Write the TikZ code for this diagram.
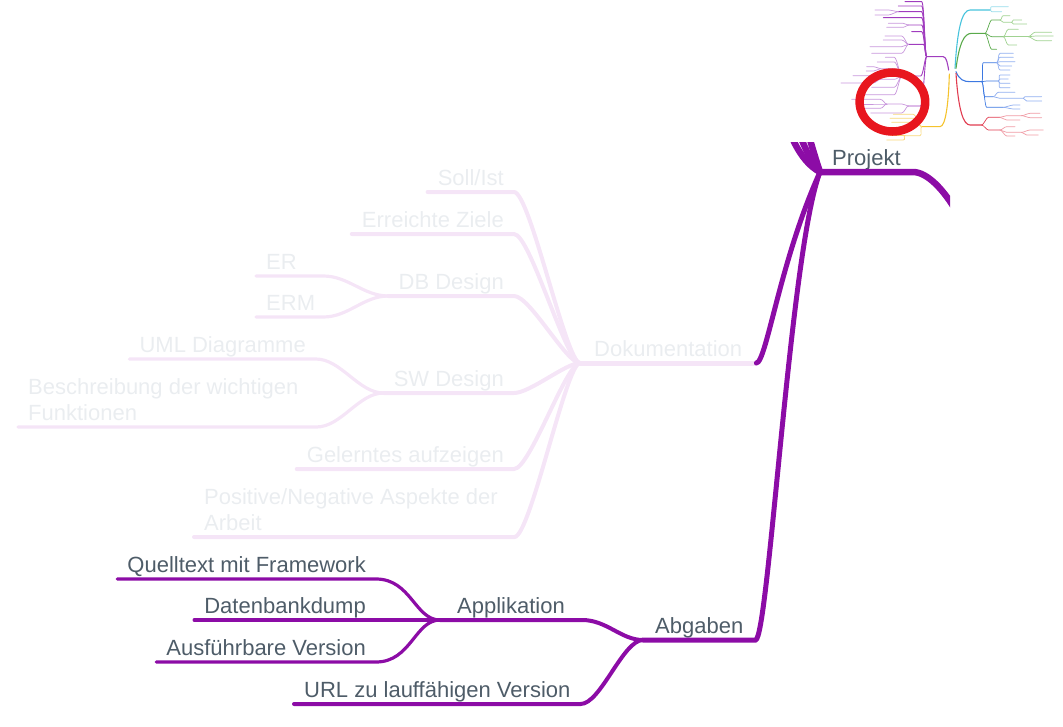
\documentclass[tikz,border=0pt]{standalone}
\usepackage{fontspec}
\setmainfont{Liberation Sans}
\definecolor{plum}{RGB}{140,12,166}
\definecolor{blush}{RGB}{245,229,247}
\definecolor{ink}{RGB}{78,92,104}
\definecolor{mist}{RGB}{234,237,240}
\definecolor{grape}{RGB}{160,60,190}
\definecolor{lilac}{RGB}{200,150,220}
\definecolor{aqua}{RGB}{70,195,220}
\definecolor{aqualeaf}{RGB}{150,220,235}
\definecolor{moss}{RGB}{90,170,75}
\definecolor{mossleaf}{RGB}{160,210,145}
\definecolor{azure}{RGB}{60,120,225}
\definecolor{azureleaf}{RGB}{145,175,240}
\definecolor{rose}{RGB}{225,60,80}
\definecolor{roseleaf}{RGB}{240,155,165}
\definecolor{amber}{RGB}{245,195,45}
\definecolor{amberleaf}{RGB}{248,215,120}
\definecolor{marker}{RGB}{232,22,30}
\newcommand{\mapfont}{\fontsize{22}{26}\selectfont}
\tikzset{%
  topic/.style = {font=\mapfont, text=ink, inner xsep=10pt, inner ysep=6pt,
        text depth=0pt},
  pale/.style = {topic, text=mist},
  trunk/.style = {draw=plum, line width=6.5pt, line cap=round},
  bough/.style = {draw=plum, line width=5pt, line cap=round},
  twig/.style = {draw=plum, line width=4pt, line cap=round},
  leafline/.style = {draw=plum, line width=3.2pt, line cap=round},
  palebough/.style = {bough, draw=blush},
  paletwig/.style = {twig, draw=blush},
  paleleaf/.style = {leafline, draw=blush},
  mapbough/.style = {line width=1.1pt, line cap=round},
  mapleaf/.style = {line width=0.7pt, line cap=round}
}
\begin{document}
\begin{tikzpicture}[x=1pt, y=-1pt]
\useasboundingbox (0,0) rectangle (1063,726);

\begin{scope}
\clip (0,142) rectangle (950,726);
\node[topic, inner xsep=12pt, anchor=south west] (projekt) at (820,172) {Projekt};
\coordinate (root) at (985,300);
\coordinate (hidden1) at (780,77);
\coordinate (hidden2) at (770,-46);
\coordinate (hidden3) at (760,-200);
\node[pale, inner xsep=14pt, anchor=south west] (doku) at (580,363) {Dokumentation};
\node[topic, inner xsep=12pt, anchor=south west] (abgaben) at (643,640) {Abgaben};

% Dokumentation (faded)
\node[pale, anchor=south east] (soll) at (514,192) {Soll/Ist};
\node[pale, anchor=south east] (ziele) at (514,234) {Erreichte Ziele};
\node[pale, anchor=south east] (dbdesign) at (514,296) {DB Design};
\node[pale, anchor=south west, text width=47pt, align=left] (er) at (256,276) {ER};
\node[pale, anchor=south west, text width=47pt, align=left] (erm) at (256,317) {ERM};
\node[pale, anchor=south east] (swdesign) at (514,393) {SW Design};
\node[pale, anchor=south east] (uml) at (316,359) {UML Diagramme};
\node[pale, anchor=south west] (beschr) at (18,427)
  {\parbox[b]{278pt}{\raggedright Beschreibung der wichtigen\\Funktionen}};
\node[pale, anchor=south east] (gelernt) at (514,469) {Gelerntes aufzeigen};
\node[pale, anchor=south west] (aspekte) at (194,537)
  {\parbox[b]{300pt}{\raggedright Positive/Negative Aspekte der\\Arbeit}};

% Abgaben
\node[topic, inner xsep=17pt, anchor=south west] (appl) at (440,620) {Applikation};
\node[topic, anchor=south west] (url) at (294,704) {URL zu lauffähigen Version};
\node[topic, anchor=south east] (quell) at (376,579) {Quelltext mit Framework};
\node[topic, anchor=south east] (dump) at (376,620) {Datenbankdump};
\node[topic, anchor=south east] (ausf) at (376,662) {Ausführbare Version};

\draw[palebough] (doku.south west) -- (doku.south east);
\foreach \kid in {soll,ziele,dbdesign,swdesign,gelernt,aspekte}
  \draw[paletwig] (\kid.south west) -- (\kid.south east)
    .. controls +(16,0) and +(-14,0) .. (doku.south west);
\foreach \kid in {er,erm}
  \draw[paleleaf] (\kid.south west) -- (\kid.south east)
    .. controls +(25,0) and +(-25,0) .. (dbdesign.south west);
\foreach \kid in {uml,beschr}
  \draw[paleleaf] (\kid.south west) -- (\kid.south east)
    .. controls +(25,0) and +(-25,0) .. (swdesign.south west);

\draw[trunk] (projekt.south west) -- (projekt.south east)
  .. controls +(28,0) and +(-5,-60) .. (root);
\draw[trunk] (hidden1) .. controls +(15,0) and +(-12,-35) .. (projekt.south west);
\draw[trunk] (hidden2) .. controls +(15,0) and +(-50,-60) .. (projekt.south west);
\draw[trunk] (hidden3) .. controls +(15,0) and +(-80,-42) .. (projekt.south west);
\draw[bough] (doku.south east) .. controls +(10,0) and +(-40,88) .. (projekt.south west);
\draw[bough] (abgaben.south west) -- (abgaben.south east)
  .. controls +(13,0) and +(-30,78) .. (projekt.south west);

\draw[twig] (appl.south west) -- (appl.south east)
  .. controls +(25,0) and +(-22,0) .. (abgaben.south west);
\draw[twig] (url.south west) -- (url.south east)
  .. controls +(20,0) and +(-20,0) .. (abgaben.south west);
\foreach \kid in {quell,ausf}
  \draw[leafline] (\kid.south west) -- (\kid.south east)
    .. controls +(35,0) and +(-25,0) .. (appl.south west);
\draw[leafline] (dump.south west) -- (appl.south west);
\end{scope}

% overview map
\begin{scope}[shift={(780,0)}, scale=1/3]
\draw[mapbough, draw=grape] (440,170) -- (490,170) .. controls (500,170) and (503,195) .. (506,210);
\foreach \a/\b/\y in {375/425/5, 355/425/18, 355/425/35, 310/425/53, 385/425/75,
    395/425/95, 385/430/133, 365/422/228, 385/422/318}
  \draw[mapbough, line width=0.9pt, draw=grape] (\a,\y) -- (\b,\y)
    .. controls +(8,0) and +(-6,0) .. (440,170);
\foreach \a/\b/\y/\px/\py in {285/325/30/355/35, 285/325/45/355/35, 325/370/70/385/75,
    320/370/82/385/75, 315/365/108/385/133, 310/365/120/385/133, 270/365/140/385/133,
    275/365/160/385/133, 316/343/172/365/228, 292/343/186/365/228, 301/343/206/365/228,
    301/343/238/365/228, 275/343/262/365/228, 240/343/284/365/228, 260/281/200/301/206,
    259/281/213/301/206, 219/279/227/301/238, 183/279/249/301/238, 320/366/312/385/318,
    272/365/339/385/318, 215/301/298/320/312, 240/320/312/320/312, 229/301/325/320/312}
  \draw[mapleaf, draw=lilac] (\a,\y) -- (\b,\y) .. controls +(8,0) and +(-6,0) .. (\px,\py);

\draw[mapbough, draw=amber] (425,380) -- (480,380) .. controls (498,380) and (506,300) .. (508,222);
\foreach \a/\b/\y/\px/\py in {340/400/343/425/380, 330/402/355/425/380, 335/405/367/425/380,
    375/420/407/425/380, 330/370/407/375/407, 320/370/420/375/407}
  \draw[mapleaf, draw=amberleaf] (\a,\y) -- (\b,\y) .. controls +(8,0) and +(-6,0) .. (\px,\py);

\draw[mapbough, draw=aqua] (525,205) .. controls (532,90) and (545,30) .. (570,30) -- (630,30);
\draw[mapbough, draw=moss] (528,205) .. controls (538,130) and (552,100) .. (575,100) -- (615,100);
\draw[mapbough, draw=azure] (528,215) .. controls (538,240) and (552,245) .. (570,245) -- (605,245);
\draw[mapbough, draw=rose] (528,220) .. controls (535,330) and (550,375) .. (570,375) -- (605,375);
\foreach \c/\px/\py/\a/\b/\y in {aqualeaf/630/30/635/685/20, aqualeaf/630/30/635/665/35,
    moss/615/100/635/660/60, moss/615/100/635/670/110, moss/615/100/635/650/148,
    mossleaf/660/60/670/690/47, mossleaf/660/60/670/695/67, mossleaf/695/67/700/725/60,
    mossleaf/695/67/700/740/72, mossleaf/670/110/685/715/88, mossleaf/670/110/685/745/110,
    mossleaf/670/110/685/710/135, mossleaf/745/110/765/815/97, mossleaf/745/110/770/820/108,
    mossleaf/745/110/770/815/122,
    azure/605/245/610/650/188, azure/605/245/620/655/243, azure/605/245/615/640/290,
    azure/605/245/620/670/322, azureleaf/650/188/660/700/160, azureleaf/650/188/660/700/172,
    azureleaf/650/188/660/705/185, azureleaf/650/188/660/695/198, azureleaf/650/188/660/690/210,
    azureleaf/655/243/660/690/225, azureleaf/655/243/660/685/237, azureleaf/655/243/660/690/250,
    azureleaf/655/243/660/690/263, azureleaf/640/290/655/705/277, azureleaf/640/290/660/730/295,
    azureleaf/730/295/735/785/290, azureleaf/730/295/740/785/303, azureleaf/670/322/700/720/315,
    azureleaf/670/322/700/720/327,
    rose/605/375/625/660/352, rose/605/375/625/660/390, roseleaf/660/352/680/725/347,
    roseleaf/660/352/680/720/360, roseleaf/725/347/750/780/340, roseleaf/725/347/750/785/353,
    roseleaf/660/390/680/705/380, roseleaf/660/390/680/725/397, roseleaf/660/390/680/705/408,
    roseleaf/725/397/750/790/390, roseleaf/725/397/740/775/405}
  \draw[mapleaf, draw=\c] (\px,\py) .. controls +(6,0) and +(-6,0) .. (\a,\y) -- (\b,\y);
\end{scope}
\draw[marker, line width=8.5pt] (892.4,102) ellipse [x radius=32.8, y radius=29.5];
\end{tikzpicture}
\end{document}
